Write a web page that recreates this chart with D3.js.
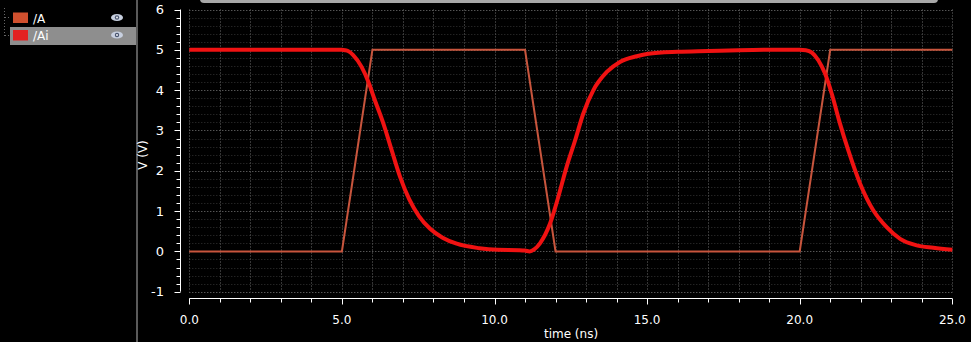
<!DOCTYPE html>
<html><head><meta charset="utf-8">
<script src="https://cdn.jsdelivr.net/npm/d3@7"></script>
<style>html,body{margin:0;padding:0;background:#000;}svg{display:block;}</style>
</head><body>
<svg id="c" width="971" height="342"></svg>
<script>
const seriesNames = ["/A", "/Ai"];
const timeA = [0, 5, 6, 11, 12, 20, 21, 25];
const valA  = [0, 0, 5, 5, 0, 0, 5, 5];
const timeAi = [0, 5.0, 5.1, 5.2, 5.37, 5.65, 5.87, 6.08, 6.36, 6.63, 6.9, 7.2, 7.53, 7.89, 8.3, 8.76, 9.5, 10.1, 10.8, 11.0, 11.15, 11.3, 11.49, 11.82, 12.09, 12.36, 12.64, 12.91, 13.24, 13.68, 14.11, 14.66, 15.04, 16, 17, 18, 19, 20, 20.2, 20.4, 20.61, 20.83, 21.05, 21.32, 21.59, 21.98, 22.41, 22.85, 23.29, 23.83, 24.38, 25];
const valAi  = [5, 5, 4.99, 4.97, 4.87, 4.57, 4.2, 3.75, 3.17, 2.51, 1.86, 1.3, 0.87, 0.56, 0.34, 0.19, 0.08, 0.04, 0.03, 0.02, 0.0, 0.05, 0.2, 0.69, 1.35, 2.09, 2.75, 3.42, 4.0, 4.45, 4.70, 4.84, 4.9, 4.95, 4.97, 4.99, 5.0, 5.0, 4.99, 4.93, 4.74, 4.41, 3.91, 3.17, 2.51, 1.68, 1.02, 0.6, 0.31, 0.15, 0.09, 0.04];
const xTickLabels = ["0.0", "5.0", "10.0", "15.0", "20.0", "25.0"];
const yTickLabels = ["-1", "0", "1", "2", "3", "4", "5", "6"];

const svg = d3.select("#c");
const font = "DejaVu Sans, sans-serif";
const x = d3.scaleLinear().domain([0, 25]).range([189.3, 952.3]);
const y = d3.scaleLinear().domain([-1, 6]).range([291.7, 9.5]);

// left panel
svg.append("rect").attr("x", 136).attr("y", 0).attr("width", 2).attr("height", 342).attr("fill", "#5a5a5a");
svg.append("rect").attr("x", 10).attr("y", 27).attr("width", 126).attr("height", 18).attr("fill", "#8e8e8e");
// tree dots
svg.append("line").attr("x1", 4.5).attr("x2", 4.5).attr("y1", 8).attr("y2", 36).attr("stroke", "#666").attr("stroke-dasharray", "1,2");
svg.append("line").attr("x1", 5).attr("x2", 11).attr("y1", 17.5).attr("y2", 17.5).attr("stroke", "#666").attr("stroke-dasharray", "1,2");
svg.append("line").attr("x1", 5).attr("x2", 11).attr("y1", 35.5).attr("y2", 35.5).attr("stroke", "#666").attr("stroke-dasharray", "1,2");
const legColors = ["#d0502e", "#e32222"];
seriesNames.forEach((n, i) => {
  const cy = 18 + i * 17.5;
  svg.append("rect").attr("x", 13).attr("y", cy - 5.5).attr("width", 15).attr("height", 10.5).attr("fill", legColors[i]);
  svg.append("text").attr("x", 33).attr("y", cy + 4.5).attr("fill", "#fff").attr("font-family", font).attr("font-size", 12).text(n);
  const eye = svg.append("g").attr("transform", `translate(117,${cy - 0.5})`);
  eye.append("ellipse").attr("rx", 6).attr("ry", 3.6).attr("fill", "#c8d0e0");
  eye.append("circle").attr("r", 2.2).attr("fill", "#4a5670");
  eye.append("circle").attr("r", 0.9).attr("fill", "#fff");
});

// top bar
svg.append("rect").attr("x", 200).attr("y", -7).attr("width", 738).attr("height", 10).attr("rx", 4).attr("fill", "#a8a8a8");

// grid
const g = svg.append("g");
const minorY = d3.range(-1, 6.001, 0.2).filter(v => Math.abs(v - Math.round(v)) > 1e-6);
g.selectAll(".my").data(minorY).enter().append("line")
  .attr("x1", x(0)).attr("x2", x(25)).attr("y1", d => Math.round(y(d)) + 0.5).attr("y2", d => Math.round(y(d)) + 0.5)
  .attr("stroke", "#333").attr("stroke-dasharray", "1,2");
g.selectAll(".gy").data(d3.range(-1, 7)).enter().append("line")
  .attr("x1", x(0)).attr("x2", x(25)).attr("y1", d => Math.round(y(d)) + 0.5).attr("y2", d => Math.round(y(d)) + 0.5)
  .attr("stroke", "#7a7a7a").attr("stroke-dasharray", "1,2");
g.selectAll(".gx").data(d3.range(0, 26)).enter().append("line")
  .attr("x1", d => Math.round(x(d)) + 0.5).attr("x2", d => Math.round(x(d)) + 0.5).attr("y1", y(6)).attr("y2", y(-1))
  .attr("stroke", "#6a6a6a").attr("stroke-dasharray", "1,2");

// axes
const yAxisX = 180.5;
svg.append("line").attr("x1", yAxisX).attr("x2", yAxisX).attr("y1", y(6)).attr("y2", y(-1)).attr("stroke", "#fff");
const yMinor = d3.range(-1, 6.001, 0.2);
svg.selectAll(".yt").data(yMinor).enter().append("line")
  .attr("x1", yAxisX).attr("x2", d => Math.abs(d - Math.round(d)) < 1e-6 ? yAxisX - 6 : yAxisX - 4)
  .attr("y1", d => Math.round(y(d)) + 0.5).attr("y2", d => Math.round(y(d)) + 0.5).attr("stroke", "#fff");
svg.selectAll(".yl").data(yTickLabels).enter().append("text")
  .attr("x", 164).attr("y", d => y(+d) + 4.5).attr("text-anchor", "end")
  .attr("fill", "#fff").attr("font-family", font).attr("font-size", 13).text(d => d);
svg.append("text").attr("transform", `translate(147,155) rotate(-90)`).attr("text-anchor", "middle")
  .attr("fill", "#fff").attr("font-family", font).attr("font-size", 12).text("V (V)");

const xAxisY = 298.5;
svg.append("line").attr("x1", x(0)).attr("x2", x(25)).attr("y1", xAxisY).attr("y2", xAxisY).attr("stroke", "#fff");
svg.selectAll(".xt").data(d3.range(0, 26)).enter().append("line")
  .attr("x1", d => Math.round(x(d)) + 0.5).attr("x2", d => Math.round(x(d)) + 0.5)
  .attr("y1", xAxisY).attr("y2", d => d % 5 === 0 ? xAxisY + 6 : xAxisY + 4).attr("stroke", "#fff");
svg.selectAll(".xl").data(xTickLabels).enter().append("text")
  .attr("x", d => x(+d)).attr("y", 324).attr("text-anchor", "middle")
  .attr("fill", "#fff").attr("font-family", font).attr("font-size", 12).text(d => d);
svg.append("text").attr("x", 571).attr("y", 338).attr("text-anchor", "middle")
  .attr("fill", "#fff").attr("font-family", font).attr("font-size", 12).text("time (ns)");

// series
const dataA = timeA.map((t, i) => [t, valA[i]]);
const dataAi = timeAi.map((t, i) => [t, valAi[i]]);
svg.append("path").datum(dataA)
  .attr("d", d3.line().x(d => x(d[0])).y(d => y(d[1])))
  .attr("fill", "none").attr("stroke", "#c8553d").attr("stroke-width", 2);
svg.append("path").datum(dataAi)
  .attr("d", d3.line().x(d => x(d[0])).y(d => y(d[1])).curve(d3.curveMonotoneX))
  .attr("fill", "none").attr("stroke", "#f01212").attr("stroke-width", 4).attr("stroke-linejoin", "round");
</script>
</body></html>
